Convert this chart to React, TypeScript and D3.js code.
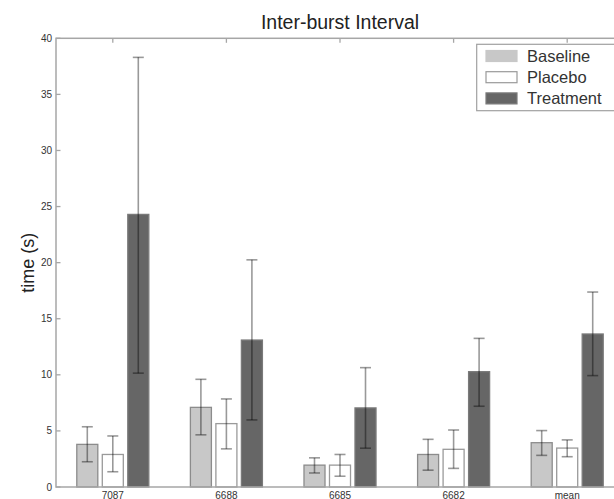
import { useEffect, useRef } from 'react';
import * as d3 from 'd3';

const categories = ['7087', '6688', '6685', '6682', 'mean'];
const seriesNames = ['Baseline', 'Placebo', 'Treatment'];

const baseline = [3.8, 7.1, 1.95, 2.9, 3.95];
const baselineLow = [2.25, 4.65, 1.25, 1.5, 2.82];
const baselineHigh = [5.37, 9.6, 2.6, 4.25, 5.03];

const placebo = [2.9, 5.65, 1.95, 3.36, 3.47];
const placeboLow = [1.36, 3.4, 0.96, 1.66, 2.7];
const placeboHigh = [4.55, 7.85, 2.9, 5.08, 4.2];

const treatment = [24.3, 13.1, 7.05, 10.28, 13.64];
const treatmentLow = [10.15, 5.98, 3.46, 7.2, 9.93];
const treatmentHigh = [38.3, 20.25, 10.64, 13.25, 17.38];

const yTicks = [0, 5, 10, 15, 20, 25, 30, 35, 40];

type Bar = { series: number; group: number; value: number; low: number; high: number };

const bars: Bar[] = [];
[
  [baseline, baselineLow, baselineHigh],
  [placebo, placeboLow, placeboHigh],
  [treatment, treatmentLow, treatmentHigh],
].forEach(([vals, lows, highs], s) => {
  vals.forEach((v, g) => bars.push({ series: s, group: g, value: v, low: lows[g], high: highs[g] }));
});

const FILLS = ['#c8c8c8', '#ffffff', '#666666'];
const STROKES = ['#8c8c8c', '#9a9a9a', '#7a7a7a'];
const FONT = '"Liberation Sans", Arial, Helvetica, sans-serif';

export default function App() {
  const svgRef = useRef<SVGSVGElement | null>(null);

  useEffect(() => {
    const svgEl = svgRef.current;
    if (!svgEl) return;
    const svg = d3.select(svgEl);
    svg.selectAll('*').remove();

    const width = 614;
    const height = 499;
    const left = 56;
    const right = 624;
    const top = 38.3;
    const bottom = 487;

    svg.append('rect').attr('width', width).attr('height', height).attr('fill', '#ffffff');

    const x = d3.scaleLinear().domain([0.5, categories.length + 0.5]).range([left, right]);
    const y = d3.scaleLinear().domain([0, 40]).range([bottom, top]);
    const offset = 0.2245;
    const barW = 0.185;
    const axisColor = '#a6a6a6';

    // ticks (drawn under bars)
    const tickG = svg.append('g').attr('stroke', axisColor).attr('stroke-width', 1.3);
    categories.forEach((_, i) => {
      tickG.append('line').attr('x1', x(i + 1)).attr('x2', x(i + 1)).attr('y1', top).attr('y2', top + 4.5);
      tickG.append('line').attr('x1', x(i + 1)).attr('x2', x(i + 1)).attr('y1', bottom).attr('y2', bottom - 4.5);
    });
    yTicks.forEach((t) => {
      tickG.append('line').attr('x1', left).attr('x2', left + 4.5).attr('y1', y(t)).attr('y2', y(t));
      tickG.append('line').attr('x1', right).attr('x2', right - 4.5).attr('y1', y(t)).attr('y2', y(t));
    });

    // bars
    const barX = (d: Bar) => x(d.group + 1 + (d.series - 1) * offset);
    svg
      .append('g')
      .selectAll('rect')
      .data(bars)
      .join('rect')
      .attr('x', (d) => barX(d) - x(barW / 2 + 0.5) + x(0.5))
      .attr('width', x(barW + 0.5) - x(0.5))
      .attr('y', (d) => y(d.value))
      .attr('height', (d) => y(0) - y(d.value))
      .attr('fill', (d) => FILLS[d.series])
      .attr('stroke', (d) => STROKES[d.series])
      .attr('stroke-width', 1.3);

    // error bars
    const capHalf = 5.5;
    const errG = svg
      .append('g')
      .selectAll('g')
      .data(bars)
      .join('g')
      .attr('stroke', '#000000')
      .attr('stroke-opacity', 0.4)
      .attr('stroke-width', 1.6);
    errG
      .append('line')
      .attr('x1', (d) => barX(d))
      .attr('x2', (d) => barX(d))
      .attr('y1', (d) => y(d.low))
      .attr('y2', (d) => y(d.high));
    errG
      .append('line')
      .attr('x1', (d) => barX(d) - capHalf)
      .attr('x2', (d) => barX(d) + capHalf)
      .attr('y1', (d) => y(d.low))
      .attr('y2', (d) => y(d.low));
    errG
      .append('line')
      .attr('x1', (d) => barX(d) - capHalf)
      .attr('x2', (d) => barX(d) + capHalf)
      .attr('y1', (d) => y(d.high))
      .attr('y2', (d) => y(d.high));

    // frame
    svg
      .append('rect')
      .attr('x', left)
      .attr('y', top)
      .attr('width', right - left)
      .attr('height', bottom - top)
      .attr('fill', 'none')
      .attr('stroke', axisColor)
      .attr('stroke-width', 1.5);

    // y tick labels
    svg
      .append('g')
      .selectAll('text')
      .data(yTicks)
      .join('text')
      .attr('x', left - 4)
      .attr('y', (d) => y(d) + 3.5)
      .attr('text-anchor', 'end')
      .attr('font-family', FONT)
      .attr('font-size', 10)
      .attr('fill', '#333333')
      .text((d) => d);

    // x tick labels (sit right at the bottom edge, as in the reference)
    svg
      .append('g')
      .selectAll('text')
      .data(categories)
      .join('text')
      .attr('x', (_, i) => x(i + 1))
      .attr('y', 498.5)
      .attr('text-anchor', 'middle')
      .attr('font-family', FONT)
      .attr('font-size', 10)
      .attr('fill', '#333333')
      .text((d) => d);

    // title
    svg
      .append('text')
      .attr('x', 340)
      .attr('y', 29)
      .attr('text-anchor', 'middle')
      .attr('font-family', FONT)
      .attr('font-size', 19.5)
      .attr('fill', '#222222')
      .text('Inter-burst Interval');

    // y label
    svg
      .append('text')
      .attr('transform', `translate(34,${(top + bottom) / 2}) rotate(-90)`)
      .attr('text-anchor', 'middle')
      .attr('font-family', FONT)
      .attr('font-size', 18)
      .attr('fill', '#222222')
      .text('time (s)');

    // legend
    const legend = svg.append('g');
    legend
      .append('rect')
      .attr('x', 476.7)
      .attr('y', 44.3)
      .attr('width', 150)
      .attr('height', 66.4)
      .attr('fill', '#ffffff')
      .attr('stroke', '#a0a0a0')
      .attr('stroke-width', 1.2);
    const rows = legend
      .selectAll('g.row')
      .data(seriesNames)
      .join('g')
      .attr('class', 'row')
      .attr('transform', (_, i) => `translate(0,${56 + i * 21.2})`);
    rows
      .append('rect')
      .attr('x', 486)
      .attr('y', -5.5)
      .attr('width', 31)
      .attr('height', 11)
      .attr('fill', (_, i) => FILLS[i])
      .attr('stroke', (_, i) => (i === 0 ? FILLS[0] : STROKES[i]))
      .attr('stroke-width', 1.2);
    rows
      .append('text')
      .attr('x', 527)
      .attr('y', 6)
      .attr('font-family', FONT)
      .attr('font-size', 16.5)
      .attr('fill', '#333333')
      .text((d) => d);
  }, []);

  return (
    <svg
      ref={svgRef}
      width={614}
      height={499}
      style={{ position: 'absolute', left: 0, top: 0, display: 'block' }}
    />
  );
}
